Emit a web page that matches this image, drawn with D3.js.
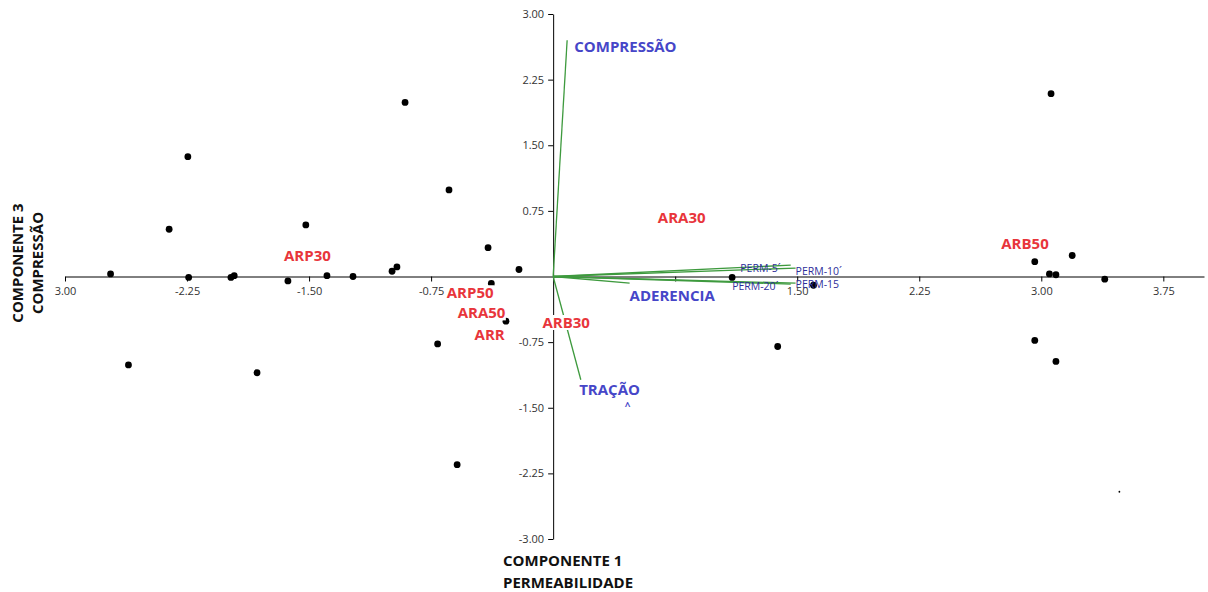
<!DOCTYPE html>
<html><head><meta charset="utf-8">
<script src="https://cdn.jsdelivr.net/npm/d3@7"></script>
<style>body{margin:0;background:#fff}svg{display:block}</style>
</head><body>
<svg id="c" width="1208" height="592"></svg>
<script>
// ---- data ----
const scoreX = [-2.72,-2.245,-2.36,-2.24,-1.98,-1.96,-2.61,-1.82,-1.63,-1.52,-1.39,-1.23,-0.99,-0.96,-0.91,-0.64,-0.71,-0.59,-0.40,-0.38,-0.21,-0.29,1.10,1.60,1.38,2.96,3.06,3.05,3.09,3.19,3.39,2.96,3.09];
const scoreY = [0.03,1.37,0.54,-0.01,-0.01,0.01,-1.01,-1.10,-0.05,0.59,0.01,0.00,0.06,0.11,1.99,0.99,-0.77,-2.15,0.33,-0.08,0.08,-0.51,-0.01,-0.10,-0.80,0.17,2.09,0.03,0.02,0.24,-0.03,-0.73,-0.97];
const tinyX = [3.48], tinyY = [-2.46];

const groupNames = ["ARP30","ARA30","ARB50","ARP50","ARA50","ARR","ARB30"];
const groupX = [-1.51,0.79,2.90,-0.51,-0.44,-0.39,0.08];
const groupY = [0.245,0.68,0.38,-0.18,-0.41,-0.66,-0.52];

const varNames = ["COMPRESSÃO","TRAÇÃO","ADERENCIA","PERM-5´","PERM-10´","PERM-15","PERM-20´"];
const varX = [0.086,0.17,0.47,1.46,1.49,1.49,1.46];
const varY = [2.70,-1.18,-0.076,0.13,0.096,-0.076,-0.087];
const varLabelX = [0.13,0.16,0.47,1.15,1.49,1.49,1.10];
const varLabelY = [2.63,-1.29,-0.215,0.10,0.06,-0.08,-0.11];
const varBig = [true,true,true,false,false,false,false];

const xTickValues = [-3,-2.25,-1.5,-0.75,0.75,1.5,2.25,3,3.75];
const xTickLabels = ["3.00","-2.25","-1.50","-0.75","","1.50","2.25","3.00","3.75"];
const yTickValues = [3,2.25,1.5,0.75,-0.75,-1.5,-2.25,-3];
const yTickLabels = ["3.00","2.25","1.50","0.75","-0.75","-1.50","-2.25","-3.00"];

// ---- drawing ----
const svg = d3.select("#c");
const FONT = "'Open Sans', 'Noto Sans', sans-serif";
const x = d3.scaleLinear().domain([-3,4]).range([65,1204]);
const y = d3.scaleLinear().domain([-3,3]).range([539,14]);

const xAxis = svg.append("g").attr("transform",`translate(0,${y(0)})`)
  .call(d3.axisBottom(x).tickValues(xTickValues).tickFormat((d,i)=>xTickLabels[i]).tickSize(5).tickSizeOuter(0));
const yAxis = svg.append("g").attr("transform",`translate(${x(0)},0)`)
  .call(d3.axisLeft(y).tickValues(yTickValues).tickFormat((d,i)=>yTickLabels[i]).tickSize(5).tickSizeOuter(0));
[xAxis,yAxis].forEach(g=>{
  g.selectAll("text").attr("font-family",FONT).attr("font-size",11).attr("fill","#333");
  g.select(".domain").attr("stroke","#000");
  g.selectAll(".tick line").attr("stroke","#000");
});
xAxis.selectAll("text").attr("dy","0.95em");
yAxis.selectAll("text").attr("dx","-1");

// vectors
svg.append("g").selectAll("line").data(varNames).join("line")
  .attr("x1",x(0)).attr("y1",y(0))
  .attr("x2",(d,i)=>x(varX[i])).attr("y2",(d,i)=>y(varY[i]))
  .attr("stroke","#3e9a3e").attr("stroke-width",1.3);

// points
svg.append("g").selectAll("circle").data(scoreX).join("circle")
  .attr("cx",(d,i)=>x(scoreX[i])).attr("cy",(d,i)=>y(scoreY[i])).attr("r",3.4).attr("fill","#000");
svg.append("g").selectAll("circle").data(tinyX).join("circle")
  .attr("cx",(d,i)=>x(tinyX[i])).attr("cy",(d,i)=>y(tinyY[i])).attr("r",0.9).attr("fill","#000");

function boxed(g){
  g.each(function(){
    const bb=this.getBBox();
    d3.select(this.parentNode).insert("rect",()=>this)
      .attr("x",bb.x).attr("y",bb.y+3).attr("width",bb.width).attr("height",bb.height-5).attr("fill","#fff");
  });
}

// variable labels
const vl = svg.append("g");
varNames.forEach((n,i)=>{
  const t = vl.append("text").attr("x",x(varLabelX[i])).attr("y",y(varLabelY[i]))
    .attr("dominant-baseline","central").attr("font-family",FONT)
    .attr("font-size",varBig[i]?15:10.5).attr("font-weight",varBig[i]?"bold":"normal")
    .attr("fill",varBig[i]?"#4646c8":"#2e2e9a").text(n);
  if(varBig[i]) boxed(t);
});
vl.append("text").attr("x",x(0.44)).attr("y",y(-1.48)).attr("dominant-baseline","central")
  .attr("font-family",FONT).attr("font-size",10).attr("font-weight","bold").attr("fill","#4646c8").text("^");

// group labels
const gl = svg.append("g");
groupNames.forEach((n,i)=>{
  const t = gl.append("text").attr("x",x(groupX[i])).attr("y",y(groupY[i]))
    .attr("text-anchor","middle").attr("dominant-baseline","central").attr("font-family",FONT)
    .attr("font-size",15).attr("font-weight","bold").attr("fill","#e8353b").text(n);
  boxed(t);
});

// axis titles
const tx = svg.append("text").attr("x",503).attr("y",566).attr("font-family",FONT)
  .attr("font-size",15).attr("font-weight","bold").attr("fill","#111");
tx.append("tspan").attr("x",503).text("COMPONENTE 1");
tx.append("tspan").attr("x",503).attr("dy",22).text("PERMEABILIDADE");
const ty = svg.append("g").attr("transform","translate(0,263) rotate(-90)");
ty.append("text").attr("x",0).attr("y",23).attr("text-anchor","middle").attr("font-family",FONT)
  .attr("font-size",15).attr("font-weight","bold").attr("fill","#111").text("COMPONENTE 3");
ty.append("text").attr("x",0).attr("y",43).attr("text-anchor","middle").attr("font-family",FONT)
  .attr("font-size",15).attr("font-weight","bold").attr("fill","#111").text("COMPRESSÃO");
</script>
</body></html>
